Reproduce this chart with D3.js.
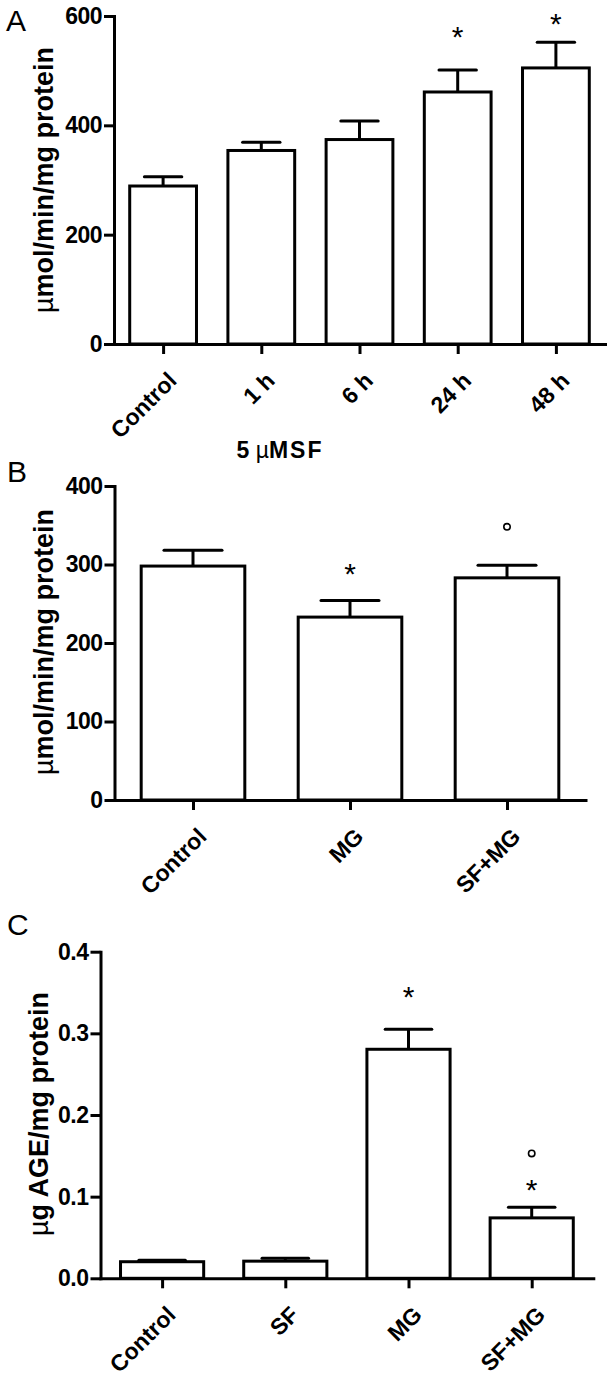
<!DOCTYPE html>
<html>
<head>
<meta charset="utf-8">
<script src="https://cdn.jsdelivr.net/npm/d3@7"></script>
<style>
  html, body { margin: 0; padding: 0; background: #fff; }
</style>
</head>
<body>
<div id="chart"></div>
<script>
const FONT = "'Liberation Sans', Arial, Helvetica, sans-serif";
const INK = "#000000";
const LINE_W = 3;

// panel A: enzyme activity vs time with 5 uM SF
const catsA = ["Control", "1 h", "6 h", "24 h", "48 h"];
const meanA = [289, 354, 374, 461, 505];
const semA = [17, 15, 34, 40, 47];
const starA = [null, null, null, 574, 598];
const ringA = [null, null, null, null, null];
const ticksA = [0, 200, 400, 600];

// panel B
const catsB = ["Control", "MG", "SF+MG"];
const meanB = [298, 233, 283];
const semB = [20, 21, 16];
const starB = [null, 297, null];
const ringB = [null, null, 348];
const ticksB = [0, 100, 200, 300, 400];

// panel C: AGE content
const catsC = ["Control", "SF", "MG", "SF+MG"];
const meanC = [0.0203, 0.021, 0.2805, 0.074];
const semC = [0.0017, 0.0035, 0.0245, 0.013];
const starC = [null, null, 0.353, 0.117];
const ringC = [null, null, null, 0.153];
const ticksC = [0, 0.1, 0.2, 0.3, 0.4];

const svg = d3.select("#chart").append("svg")
    .attr("width", 610)
    .attr("height", 1378)
    .attr("font-family", FONT);

svg.append("rect").attr("width", 610).attr("height", 1378).attr("fill", "#fff");

function drawPanel(p) {
    const g = svg.append("g").attr("class", "panel-" + p.letter);

    let y = d3.scaleLinear().domain([0, p.ymax]).range([p.y0, p.y1]);
    let x = d3.scalePoint().domain(p.cats).range([p.x0, p.x1]).padding(0.5);
    let step = x.step();
    let barW = step * p.barFrac;
    let capW = barW * 0.56;

    // panel letter
    g.append("text")
        .attr("x", p.letterX).attr("y", p.letterY)
        .attr("font-size", 30).attr("fill", INK)
        .text(p.letter);

    // bars
    g.append("g").selectAll("rect")
        .data(p.cats).enter().append("rect")
        .attr("x", d => x(d) - barW / 2)
        .attr("y", (d, i) => y(p.mean[i]))
        .attr("width", barW)
        .attr("height", (d, i) => y(0) - y(p.mean[i]))
        .attr("fill", "#fff")
        .attr("stroke", INK)
        .attr("stroke-width", LINE_W);

    // error bars (upper only)
    let eb = g.append("g").attr("class", "err");
    p.cats.forEach((c, i) => {
        let top = y(p.mean[i] + p.sem[i]);
        eb.append("line")
            .attr("x1", x(c)).attr("x2", x(c))
            .attr("y1", y(p.mean[i])).attr("y2", top)
            .attr("stroke", INK).attr("stroke-width", LINE_W);
        eb.append("line")
            .attr("x1", x(c) - capW / 2).attr("x2", x(c) + capW / 2)
            .attr("y1", top).attr("y2", top)
            .attr("stroke", INK).attr("stroke-width", LINE_W)
            .attr("stroke-linecap", "round");
    });

    // significance marks
    p.cats.forEach((c, i) => {
        if (p.star[i] != null) {
            g.append("text")
                .attr("x", x(c)).attr("y", y(p.star[i]) + 17)
                .attr("text-anchor", "middle")
                .attr("font-size", 30).attr("fill", INK)
                .text("*");
        }
        if (p.ring[i] != null) {
            g.append("circle")
                .attr("cx", x(c)).attr("cy", y(p.ring[i]))
                .attr("r", 3.2)
                .attr("fill", "none").attr("stroke", INK).attr("stroke-width", 1.6);
        }
    });

    // y axis
    g.append("g")
        .attr("transform", "translate(" + p.x0 + ",0)")
        .call(d3.axisLeft(y).tickValues(p.ticks).tickSize(10).tickSizeOuter(0)
            .tickPadding(2).tickFormat(p.fmt))
        .call(a => {
            a.select(".domain").attr("stroke", INK).attr("stroke-width", LINE_W)
                .attr("stroke-linecap", "square");
            a.selectAll(".tick line").attr("stroke", INK).attr("stroke-width", LINE_W);
            a.selectAll(".tick text")
                .attr("font-size", 23).attr("font-weight", "bold")
                .attr("font-family", FONT).attr("fill", INK)
                .attr("letter-spacing", -0.5);
        });

    // x axis
    g.append("g")
        .attr("transform", "translate(0," + p.y0 + ")")
        .call(d3.axisBottom(x).tickSize(10).tickSizeOuter(0).tickFormat(""))
        .call(a => {
            a.select(".domain").attr("stroke", INK).attr("stroke-width", LINE_W)
                .attr("stroke-linecap", "square");
            a.selectAll(".tick line").attr("stroke", INK).attr("stroke-width", LINE_W);
        });

    // rotated category labels
    g.append("g").selectAll("text")
        .data(p.cats).enter().append("text")
        .attr("transform", d => "translate(" + (x(d) + 15) + "," + (p.y0 + 38) + ") rotate(-45)")
        .attr("text-anchor", "end")
        .attr("font-size", 23).attr("font-weight", "bold").attr("fill", INK)
        .text(d => d);

    // y title
    let t = g.append("text")
        .attr("transform", "translate(" + p.titleX + "," + p.titleY + ") rotate(-90)")
        .attr("text-anchor", "middle")
        .attr("font-size", 27).attr("font-weight", "bold").attr("fill", INK);
    t.append("tspan").attr("font-weight", "normal").text(p.titleMu);
    t.append("tspan").text(p.titleRest);

    return { x: x, y: y };
}

drawPanel({
    letter: "A", letterX: 6, letterY: 31,
    cats: catsA, mean: meanA, sem: semA, star: starA, ring: ringA,
    ticks: ticksA, ymax: 600, fmt: d3.format("d"),
    x0: 114, x1: 605, y0: 344, y1: 16, barFrac: 0.68,
    titleX: 53, titleY: 180, titleMu: "\u00b5", titleRest: "mol/min/mg protein"
});

// group label under panel A
let lab = svg.append("text")
    .attr("x", 280).attr("y", 458)
    .attr("text-anchor", "middle")
    .attr("font-size", 23).attr("font-weight", "bold").attr("fill", INK);
lab.append("tspan").text("5 ");
lab.append("tspan").attr("font-weight", "normal").text("\u00b5");
lab.append("tspan").attr("letter-spacing", 2).text("MSF");

drawPanel({
    letter: "B", letterX: 7, letterY: 482,
    cats: catsB, mean: meanB, sem: semB, star: starB, ring: ringB,
    ticks: ticksB, ymax: 400, fmt: d3.format("d"),
    x0: 114.5, x1: 585.5, y0: 800, y1: 486, barFrac: 0.66,
    titleX: 53, titleY: 642, titleMu: "\u00b5", titleRest: "mol/min/mg protein"
});

drawPanel({
    letter: "C", letterX: 7, letterY: 935,
    cats: catsC, mean: meanC, sem: semC, star: starC, ring: ringC,
    ticks: ticksC, ymax: 0.4, fmt: d3.format(".1f"),
    x0: 100.5, x1: 593.3, y0: 1278.3, y1: 951.7, barFrac: 0.675,
    titleX: 48, titleY: 1114, titleMu: "\u00b5", titleRest: "g AGE/mg protein"
});
</script>
</body>
</html>
